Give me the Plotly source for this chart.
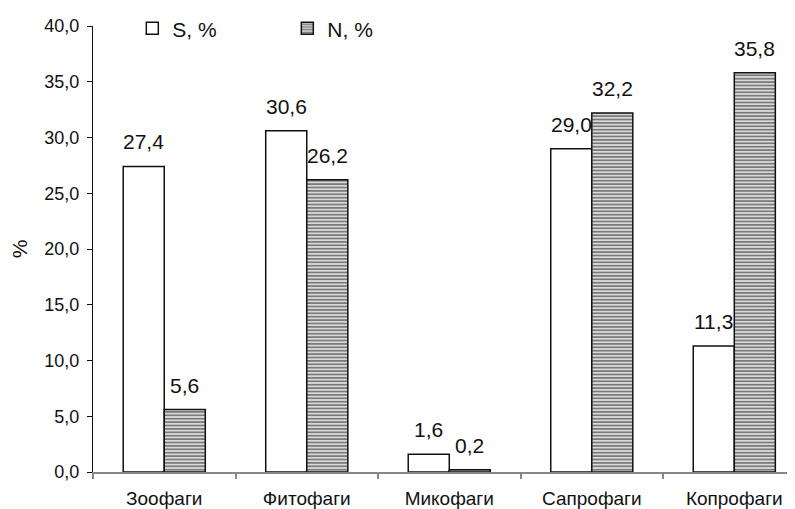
import plotly.graph_objects as go

categories = ["Зоофаги", "Фитофаги", "Микофаги", "Сапрофаги", "Копрофаги"]
s_values = [27.4, 30.6, 1.6, 29.0, 11.3]
n_values = [5.6, 26.2, 0.2, 32.2, 35.8]
series_names = ["S, %", "N, %"]
y_ticks = [0, 5, 10, 15, 20, 25, 30, 35, 40]

FONT = "Liberation Sans, Arial, sans-serif"

def fmt(v):
    return f"{v:.1f}".replace(".", ",")

fig = go.Figure()
fig.add_trace(go.Bar(
    x=categories, y=s_values, name=series_names[0],
    marker=dict(color="white", line=dict(color="#111", width=1.5)),
))
fig.add_trace(go.Bar(
    x=categories, y=n_values, name=series_names[1],
    marker=dict(color="#b0b0b0", line=dict(color="#111", width=1.5),
                pattern=dict(shape="-", size=3.4, solidity=0.55,
                             fgcolor="#111111", bgcolor="#e4e4e4")),
))

for i, c in enumerate(categories):
    for j, vals in enumerate([s_values, n_values]):
        fig.add_annotation(
            x=c, y=vals[i], text=fmt(vals[i]), showarrow=False,
            xref="x", yref="y", yanchor="bottom", yshift=11,
            xshift=(-20.5 if j == 0 else 20.5),
            font=dict(family=FONT, size=21, color="#111"),
        )

# page body has an 8px default margin, so the figure is sized 8px smaller
fig.update_layout(
    width=787, height=501,
    margin=dict(l=85, r=0, t=13, b=37),
    paper_bgcolor="white", plot_bgcolor="white",
    barmode="group", bargap=0.424, bargroupgap=0,
    separators=", ",
    font=dict(family=FONT, size=18, color="#111"),
    showlegend=True,
    legend=dict(orientation="h", x=0.056, y=0.994, xanchor="left", yanchor="middle",
                bgcolor="rgba(0,0,0,0)", font=dict(family=FONT, size=21, color="#111"),
                entrywidth=110, entrywidthmode="pixels", traceorder="normal"),
    xaxis=dict(
        type="category", range=[-0.5, 4.426],
        showline=True, linecolor="#888", linewidth=1.5,
        ticks="outside", tickson="boundaries", ticklen=5, tickcolor="#888", tickwidth=1.5,
        showgrid=False, zeroline=False, ticklabelstandoff=8,
        tickfont=dict(family=FONT, size=19, color="#111"),
    ),
    yaxis=dict(
        range=[0, 40], tickvals=y_ticks, tickformat=".1f",
        showline=True, linecolor="#111", linewidth=1.2,
        ticks="outside", ticklen=5, tickcolor="#111", tickwidth=1.2,
        showgrid=False, zeroline=False, ticklabelstandoff=4,
        tickfont=dict(family=FONT, size=18, color="#111"),
        title=dict(text="%", font=dict(family=FONT, size=21, color="#111"), standoff=10),
    ),
)

fig.write_html("out.html")
